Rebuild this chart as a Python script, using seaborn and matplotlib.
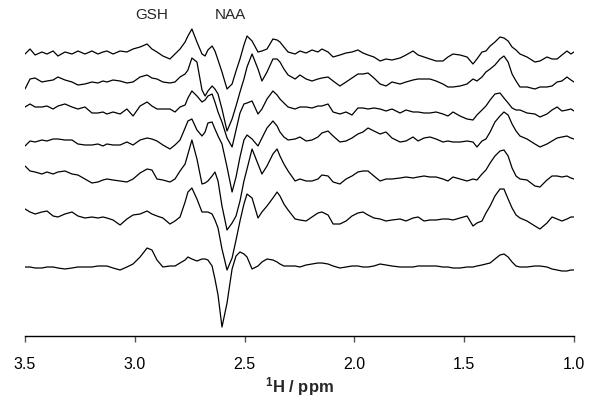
# === 0. IMPORT LIBRARIES ===
import pandas as pd
import seaborn as sns
import matplotlib.pyplot as plt

# === 1. DATA ===
# chemical shift grid, ppm
ppm = [3.500, 3.477, 3.454, 3.423, 3.400, 3.372, 3.350, 3.318, 3.286, 3.259,
       3.227, 3.195, 3.168, 3.145, 3.127, 3.099, 3.067, 3.036, 3.008, 2.976,
       2.944, 2.922, 2.899, 2.872, 2.840, 2.817, 2.794, 2.771, 2.758, 2.740,
       2.717, 2.694, 2.680, 2.667, 2.648, 2.635, 2.621, 2.603, 2.580, 2.557,
       2.539, 2.521, 2.503, 2.489, 2.466, 2.439, 2.421, 2.398, 2.371, 2.352,
       2.339, 2.321, 2.302, 2.270, 2.248,
       2.220, 2.193, 2.166, 2.148, 2.120, 2.097, 2.066, 2.038, 2.011, 1.984,
       1.961, 1.938, 1.911, 1.883, 1.856, 1.829, 1.792, 1.765, 1.733, 1.710,
       1.683, 1.656, 1.628, 1.597, 1.574, 1.551, 1.519, 1.487, 1.460, 1.442,
       1.419, 1.401, 1.382, 1.360, 1.337, 1.319, 1.300, 1.282, 1.264, 1.246,
       1.214, 1.178, 1.155, 1.123, 1.100, 1.077, 1.055, 1.032, 1.014, 1.000]

# spectra, top to bottom (arbitrary intensity units)
spec1 = [0, 5, -1, 2, 0, 3, -2, 2, 0, 3, 0, 3, 0, 2, 3, 0, 3, 2, 5, 7,
         10, 5, 2, -2, -5, 0, 5, 12, 18, 25, 12, 0, -2, 4, 8, 3, -6, -18, -35, -30,
         -17, -5, 9, 18, 13, 2, 3, 5, 15, 14, 12, 7, 2, 0, 3,
         1, 4, 2, 5, 2, -3, -1, 1, 2, 4, 1, -1, -3, -7, -5, -6, -4, -1, 3, -1,
         -3, -5, -7, -7, -3, 0, -1, -3, -10, -5, 2, 3, 8, 12, 17, 16, 13, 7, 4, 0,
         -3, -8, -7, -3, -5, -5, -1, 3, 0, 2]
spec2 = [-5, 5, 6, 2, 3, 4, 7, 4, 2, -1, 0, 2, 1, 3, 2, 4, 3, 1, 2, 7,
         9, 6, 5, 2, 1, 2, 7, 10, 14, 26, 22, -6, -12, -7, -2, -5, -10, -25, -47, -35,
         -22, -8, 5, 17, 30, 15, 3, 12, 25, 25, 22, 15, 9, 5, 9,
         5, 3, 5, 6, 7, 3, -2, 2, 6, 10, 10, 11, 6, 0, -2, 2, 0, 2, 4, 5,
         5, 5, 3, 0, -3, -3, -2, 0, 5, 3, 7, 12, 15, 19, 25, 28, 22, 10, 3, -3,
         -3, -5, -3, -3, -2, 2, 3, 7, 4, 2]
spec3 = [3, 6, 3, 3, 4, 1, 4, 6, 3, 1, 3, -3, -3, -2, -4, -2, -4, 1, -6, 4,
         8, 4, 1, 1, 1, -2, 3, 5, 12, 19, 14, 8, 10, 14, 16, 8, -2, -12, -28, -37,
         -20, -3, 6, 7, 9, -4, 1, 11, 19, 15, 11, 7, 3, 1, 3,
         3, 2, 4, 4, 6, -2, -4, -2, -5, 2, 2, 1, 2, 1, -1, 1, -3, 0, -2, -2,
         -3, -3, -2, -4, -6, -2, -6, -9, -10, -5, 0, 4, 10, 16, 17, 12, 7, 2, 0, 0,
         -3, -4, -7, -4, 0, 3, -1, 0, 1, -1]
spec4 = [-4, 1, 0, 2, 1, 3, 3, 2, 2, -2, -3, -3, -2, -4, -2, -3, -3, 0, -3, 2,
         4, 3, 1, -3, -7, -3, 2, 14, 21, 23, 12, 6, 10, 19, 20, 13, 6, -2, -25, -50,
         -35, -15, 2, 7, 3, -4, 4, 14, 21, 16, 10, 5, 2, 3, 5,
         1, 2, 5, 9, 11, 6, 0, 1, 4, 8, 10, 14, 11, 8, 10, 4, 0, 1, 5, 1,
         4, 5, 3, 0, 1, 0, 0, 1, 0, -5, 1, 3, 10, 20, 26, 30, 27, 18, 11, 6,
         3, -2, -5, -2, 1, 4, 5, 6, 4, 3]
spec5 = [10, 5, 4, 2, 4, 2, 4, 5, 2, 1, -3, -7, -6, -4, -3, -4, -5, -6, -3, 3,
         7, 6, -3, -4, -6, -3, 5, 12, 22, 36, 17, -8, -7, -5, 0, 4, -5, -30, -54, -47,
         -40, -25, -5, 7, 27, 12, 2, 10, 22, 27, 20, 12, 5, -5, -3,
         -5, -5, -3, 1, 0, -6, -8, -3, 0, 4, 5, 5, 0, -5, -3, -3, -2, -1, -2, -1,
         0, -1, -1, -3, -5, -1, -3, -5, -3, -4, 2, 6, 13, 20, 25, 26, 20, 8, 0, -3,
         -4, -10, -11, -4, 0, 0, -1, 0, -2, -3]
spec6 = [7, 4, 2, 4, 5, 0, -1, 2, 4, 0, -2, -1, -2, -1, -2, -4, -9, -3, 1, 2,
         5, 2, 0, -2, -8, -5, -1, 14, 24, 28, 17, 4, 4, 4, 2, -4, -12, -33, -54, -42,
         -24, -5, 12, 22, 18, -2, 4, 10, 18, 24, 20, 12, 6, -3, -4,
         -5, -1, 3, 4, 1, -8, -8, -5, 0, 3, 4, 1, -2, -3, -5, -4, -3, -5, -2, -1,
         -5, -4, -4, -3, -3, -4, -2, 0, -10, -7, -5, 3, 10, 20, 27, 27, 17, 8, 1, -2,
         -5, -10, -13, -7, -1, -3, -5, -3, -1, -1]
spec7 = [0, 0, -1, -1, 0, 0, -1, -2, -1, 0, 0, 0, 1, 1, 1, -1, -3, 0, 3, 10,
         19, 17, 7, 0, 1, 1, 4, 7, 10, 8, 6, 8, 8, 7, 1, -12, -28, -60, -36, -2,
         11, 15, 13, 10, -2, 1, 5, 8, 7, 5, 3, 1, 1, 1, 0,
         2, 3, 4, 4, 3, 1, -1, 0, 1, 1, 0, 0, 1, 3, 2, 1, 0, 0, 0, 1,
         1, 1, 1, 0, 0, -1, -1, 0, 0, 1, 2, 3, 4, 8, 12, 13, 10, 5, 1, 0,
         0, 1, 1, 0, -2, -3, -4, -4, -3, -3]

spectra = [spec1, spec2, spec3, spec4, spec5, spec6, spec7]
offsets = [214, 184, 158, 126, 92, 52, 1]   # vertical stacking of the spectra

peak_labels = ["GSH", "NAA"]
peak_pos = [2.922, 2.566]

# === 2. BUILD LONG TABLE ===
rows = []
for k, (amp, off) in enumerate(zip(spectra, offsets)):
    for x, a in zip(ppm, amp):
        rows.append({"ppm": x, "y": a + off, "trace": k})
df = pd.DataFrame(rows)

# === 3. PLOT ===
sns.set_style("white")
plt.rcParams['font.family'] = ['Liberation Sans', 'DejaVu Sans']
plt.rcParams['mathtext.fontset'] = 'custom'
plt.rcParams['mathtext.rm'] = 'Liberation Sans'
plt.rcParams['mathtext.bf'] = 'Liberation Sans:bold'

fig = plt.figure(figsize=(6.01, 4.02), dpi=100)
ax = fig.add_axes([25 / 601, 65 / 402, 549 / 601, 337 / 402])

sns.lineplot(data=df, x="ppm", y="y", units="trace", estimator=None,
             color="black", linewidth=0.9, sort=False, legend=False, ax=ax)

ax.set_xlim(3.5, 1.0)
ax.set_ylim(-68, 269)

for s in ["top", "right", "left"]:
    ax.spines[s].set_visible(False)
ax.spines["bottom"].set_color("black")
ax.spines["bottom"].set_linewidth(1.0)

ax.set_yticks([])
ax.set_ylabel("")
ax.set_xticks([3.5, 3.0, 2.5, 2.0, 1.5, 1.0])
ax.set_xticklabels(["3.5", "3.0", "2.5", "2.0", "1.5", "1.0"])
ax.tick_params(axis="x", direction="out", length=4.5, width=1, pad=9.9,
               labelsize=11.5, color="#555555", labelcolor="black", bottom=True)
ax.set_xlabel(r"$\mathbf{^1}$H / ppm", fontsize=12, fontweight="bold", labelpad=2.5)

for lab, x in zip(peak_labels, peak_pos):
    ax.text(x, 254, lab, ha="center", va="center", fontsize=11)

fig.savefig("out.png", dpi=100)
